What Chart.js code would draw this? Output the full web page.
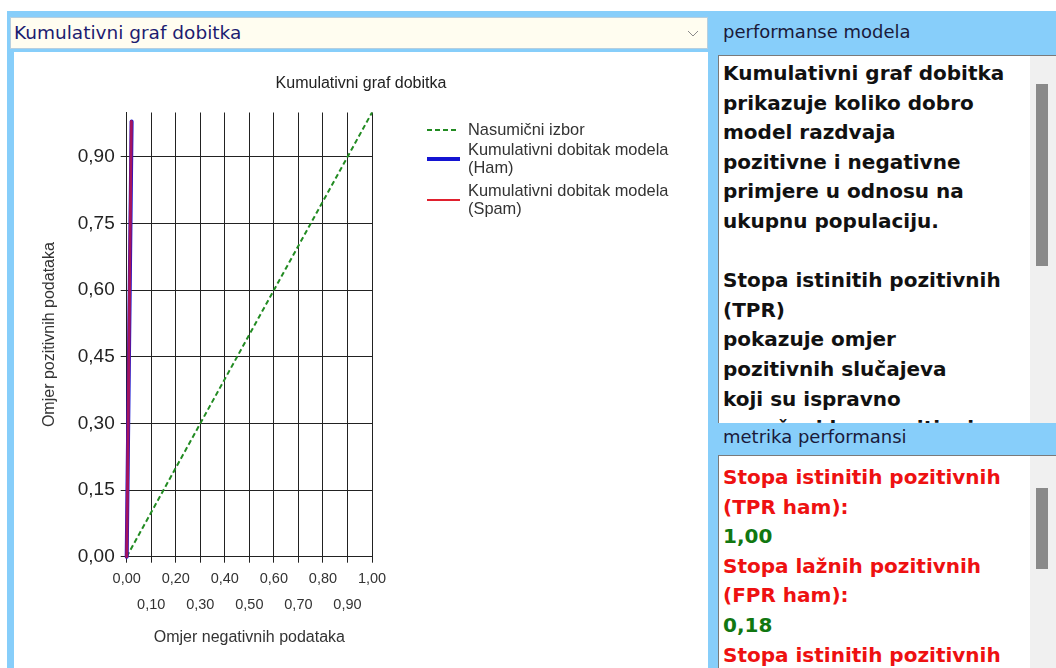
<!DOCTYPE html>
<html>
<head>
<meta charset="utf-8">
<script src="https://cdn.jsdelivr.net/npm/chart.js@4.4.1/dist/chart.umd.min.js"></script>
<style>
  body { margin: 0; width: 1056px; height: 668px; overflow: hidden; background: #fff; position: relative; }
  #frame { position: absolute; left: 7px; top: 11px; right: 0; bottom: 0; background: #87cefa; }
  #combo { position: absolute; left: 10px; top: 17px; width: 698px; height: 32px; box-sizing: border-box;
           background: #fffdf0; border: 1px solid #b5cfe0; color: #1c1c70;
           font: 18.5px "DejaVu Sans", sans-serif; line-height: 30px; padding-left: 3px; }
  #combo svg { position: absolute; right: 8px; top: 12px; }
  #chartBox { position: absolute; left: 14px; top: 52px; width: 694px; height: 616px; background: #fff; }
  #legend { position: absolute; left: 427px; top: 120px; font: 16.4px "Liberation Sans", Arial, sans-serif; color: #333; }
  .item { position: absolute; left: 0; white-space: nowrap; }
  .item .txt { position: absolute; left: 41px; line-height: 18px; }
  .item .swatch { position: absolute; left: 0; width: 33px; }
  .head { position: absolute; left: 723px; font: 18px "DejaVu Sans", sans-serif; color: #1a1a3a; }
  .box { position: absolute; left: 718px; width: 338px; background: #fff; overflow: hidden;
         border-left: 1px solid #7a7a7a; border-top: 1px solid #7a7a7a; box-sizing: border-box;
         font: bold 20px "DejaVu Sans", sans-serif; white-space: pre; line-height: 29.6px; padding-left: 4px; }
  .track { position: absolute; right: 0; top: 0; bottom: 0; width: 26px; background: #f0f0f0; }
  .thumb { position: absolute; left: 6px; width: 12px; background: #8a8a8a; }
  .red { color: #ee1111; }
  .green { color: #117711; }
</style>
</head>
<body>
<div id="frame"></div>
<div id="combo">Kumulativni graf dobitka
  <svg width="12" height="8"><polyline points="1,1 6,6 11,1" fill="none" stroke="#8a8a8a" stroke-width="1"/></svg>
</div>
<div id="chartBox"><canvas id="gain"></canvas></div>
<div id="legend"></div>

<div class="head" style="top:21px">performanse modela</div>
<div class="box" style="top:55px;height:368px;padding-top:3px;color:#111">Kumulativni graf dobitka
prikazuje koliko dobro
model razdvaja
pozitivne i negativne
primjere u odnosu na
ukupnu populaciju.

Stopa istinitih pozitivnih
(TPR)
pokazuje omjer
pozitivnih slučajeva
koji su ispravno
označeni kao pozitivni.<div class="track"><div class="thumb" style="top:28px;height:182px"></div></div></div>

<div class="head" style="top:426px">metrika performansi</div>
<div class="box" style="top:455px;height:213px;padding-top:7px"><span class="red">Stopa istinitih pozitivnih
(TPR ham):</span>
<span class="green">1,00</span>
<span class="red">Stopa lažnih pozitivnih
(FPR ham):</span>
<span class="green">0,18</span>
<span class="red">Stopa istinitih pozitivnih
(TPR spam):</span><div class="track"><div class="thumb" style="top:32px;height:81px"></div></div></div>

<script>
const xTickValues = [0, 0.1, 0.2, 0.3, 0.4, 0.5, 0.6, 0.7, 0.8, 0.9, 1.0];
const yTickValues = [0, 0.15, 0.30, 0.45, 0.60, 0.75, 0.90];

const randomX = [0, 1];
const randomY = [0, 1];
const hamX = [0, 0.02];
const hamY = [0, 0.98];
const spamX = [0, 0.019];
const spamY = [0, 0.98];

const seriesNames = ["Nasumični izbor", "Kumulativni dobitak modela (Ham)", "Kumulativni dobitak modela (Spam)"];
const legendLines = [["Nasumični izbor"], ["Kumulativni dobitak modela", "(Ham)"], ["Kumulativni dobitak modela", "(Spam)"]];

const FONT = "'Liberation Sans', Arial, sans-serif";
const GRID = "#222";

const toPoints = (xs, ys) => xs.map((x, i) => ({ x, y: ys[i] }));
const fmt = v => v.toFixed(2).replace(".", ",");

const datasets = [
  {
    label: seriesNames[0],
    data: toPoints(randomX, randomY),
    borderColor: "#228b22",
    borderWidth: 2,
    borderDash: [5, 3],
    order: 2
  },
  {
    label: seriesNames[1],
    data: toPoints(hamX, hamY),
    borderColor: "#1414d2",
    borderWidth: 4,
    borderCapStyle: "round",
    order: 1
  },
  {
    // spam sits on top of ham, like in the original
    label: seriesNames[2],
    data: toPoints(spamX, spamY),
    borderColor: "rgba(225,20,45,0.7)",
    borderWidth: 3,
    borderCapStyle: "round",
    order: 0
  }
];
datasets.forEach(d => { d.pointRadius = 0; d.clip = false; d.tension = 0; });

// legend drawn as html so the labels can wrap like the original
const legend = document.getElementById("legend");
const legendTops = [0, 20, 61];
legendLines.forEach((lines, i) => {
  const item = document.createElement("div");
  item.className = "item";
  item.style.top = legendTops[i] + "px";
  const mid = lines.length * 9;
  const ds = datasets[i];
  const sw = document.createElement("div");
  sw.className = "swatch";
  sw.style.top = (mid - ds.borderWidth / 2 + 1) + "px";
  if (ds.borderDash) {
    sw.style.width = "30px";
    sw.style.height = "2px";
    sw.style.background = `repeating-linear-gradient(90deg, ${ds.borderColor} 0 5px, transparent 5px 8px)`;
  } else {
    sw.style.height = (i === 2 ? 2 : ds.borderWidth) + "px";
    sw.style.background = i === 2 ? "#e0202e" : ds.borderColor;
  }
  const txt = document.createElement("div");
  txt.className = "txt";
  txt.innerHTML = lines.join("<br>");
  item.appendChild(sw);
  item.appendChild(txt);
  legend.appendChild(item);
});

new Chart(document.getElementById("gain"), {
  type: "line",
  data: { datasets },
  options: {
    responsive: true,
    maintainAspectRatio: false,
    animation: false,
    events: [],
    layout: { padding: 0 },
    plugins: {
      legend: { display: false },
      tooltip: { enabled: false },
      title: {
        display: true,
        text: "Kumulativni graf dobitka",
        color: "#222",
        font: { family: FONT, size: 16, weight: "normal" },
        padding: { top: 22.4, bottom: 18.9 }
      }
    },
    scales: {
      x: {
        type: "linear",
        min: 0,
        max: 1,
        afterBuildTicks: s => { s.ticks = xTickValues.map(value => ({ value })); },
        afterFit: s => { s.height = 111.3; },
        grid: { color: GRID, tickLength: 6 },
        border: { color: GRID },
        ticks: {
          autoSkip: false,
          maxRotation: 0,
          padding: 3,
          color: "#333",
          font: { family: FONT, size: 14.5, lineHeight: "26px" },
          callback: (v, i) => (i % 2 ? ["", fmt(v)] : fmt(v))
        },
        title: {
          display: true,
          text: "Omjer negativnih podataka",
          color: "#333",
          font: { family: FONT, size: 16 },
          padding: { top: 0, bottom: 21 }
        }
      },
      y: {
        type: "linear",
        min: 0,
        max: 1,
        afterBuildTicks: s => { s.ticks = yTickValues.map(value => ({ value })); },
        afterFit: s => { s.width = 112.7; },
        grid: { color: GRID, tickLength: 6 },
        border: { color: GRID },
        ticks: {
          padding: 6,
          color: "#222",
          font: { family: FONT, size: 19 },
          callback: v => fmt(v)
        },
        title: {
          display: true,
          text: "Omjer pozitivnih podataka",
          color: "#333",
          font: { family: FONT, size: 16 },
          padding: { top: 26.4, bottom: 0 }
        }
      },
      // empty right axis that only reserves the space the legend sits in
      side: {
        type: "linear",
        position: "right",
        grid: { display: false },
        border: { display: false },
        ticks: { display: false },
        afterFit: s => { s.width = 336; }
      }
    }
  }
});
</script>
</body>
</html>
